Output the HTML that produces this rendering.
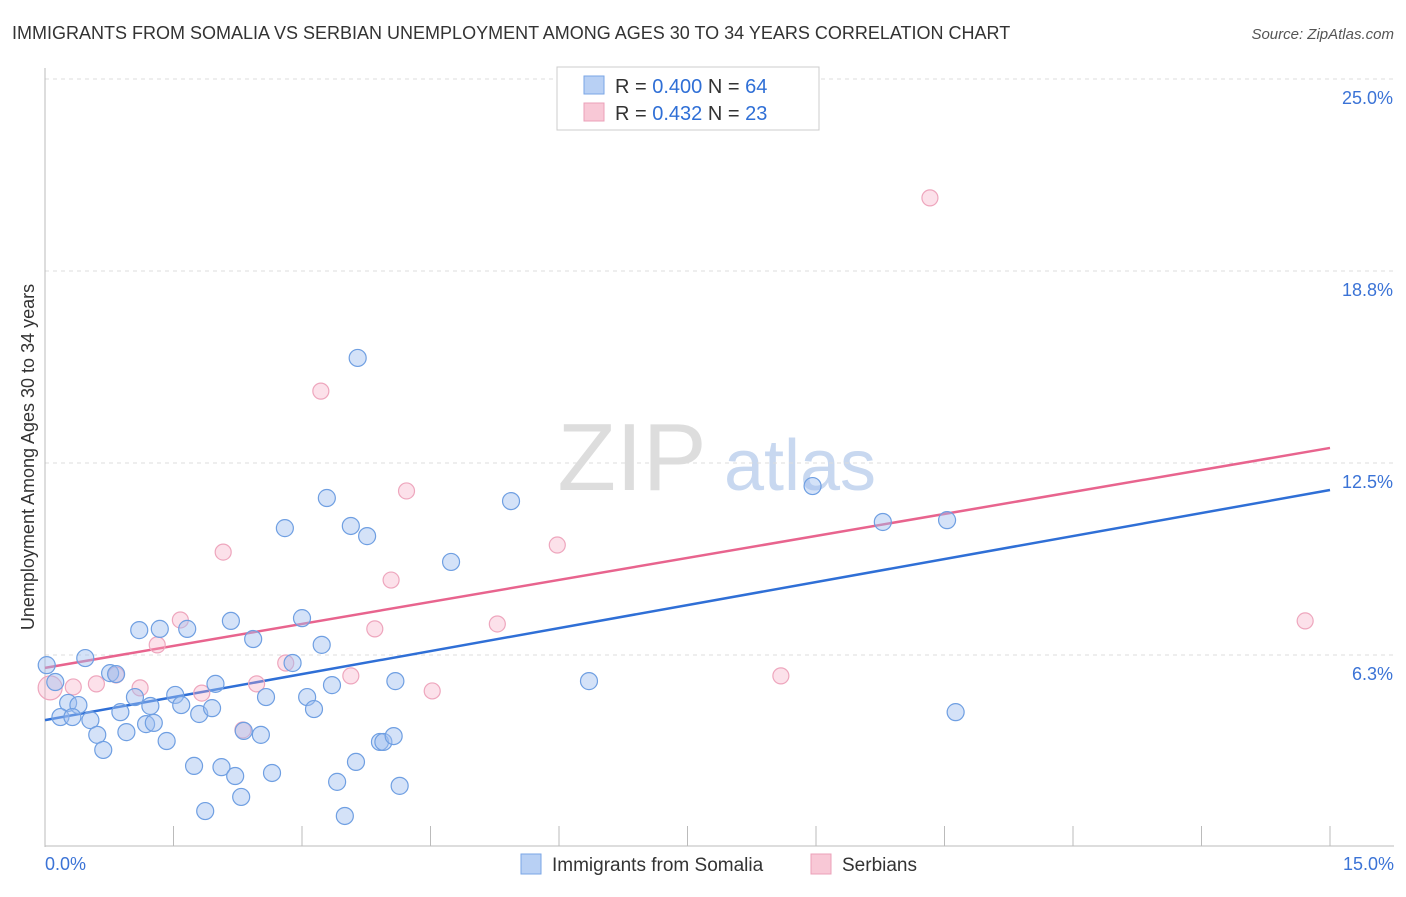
<!DOCTYPE html>
<html><head><meta charset="utf-8"><style>
body{margin:0;background:#fff;font-family:"Liberation Sans",sans-serif;}
svg text{font-family:"Liberation Sans",sans-serif;}
</style></head><body>
<svg id="chart" width="1406" height="892">
<text x="12" y="39" font-size="18" fill="#333">IMMIGRANTS FROM SOMALIA VS SERBIAN UNEMPLOYMENT AMONG AGES 30 TO 34 YEARS CORRELATION CHART</text>
<text x="1394" y="39" font-size="15" fill="#555" font-style="italic" text-anchor="end">Source: ZipAtlas.com</text>
<text transform="translate(34,457) rotate(-90)" font-size="18" fill="#333" text-anchor="middle">Unemployment Among Ages 30 to 34 years</text>
<g><text x="632" y="490" font-size="96" fill="#ddd" font-family="Liberation Serif" text-anchor="middle">ZIP</text><text x="800" y="490" font-size="72" fill="#c8d8f0" text-anchor="middle">atlas</text></g>
<g id="grid"></g><g id="axes"></g><g id="lines"></g><g id="pts"></g>
<g>
<rect x="557" y="67" width="262" height="63" fill="#fff" stroke="#ccc"/>
<rect x="584" y="76" width="20" height="18" fill="#b8d0f4" stroke="#7aa6e6"/>
<text x="615" y="93" font-size="20" fill="#333">R = <tspan fill="#2f6fd6">0.400</tspan>   N = <tspan fill="#2f6fd6">64</tspan></text>
<rect x="584" y="103" width="20" height="18" fill="#f8c8d6" stroke="#eba0b8"/>
<text x="615" y="120" font-size="20" fill="#333">R =  <tspan fill="#2f6fd6">0.432</tspan>   N =  <tspan fill="#2f6fd6">23</tspan></text>
</g>
<g>
<rect x="521" y="854" width="20" height="20" fill="#b8d0f4" stroke="#7aa6e6"/>
<text x="552" y="871" font-size="19" fill="#333">Immigrants from Somalia</text>
<rect x="811" y="854" width="20" height="20" fill="#f8c8d6" stroke="#eba0b8"/>
<text x="842" y="871" font-size="19" fill="#333">Serbians</text>
</g>
</svg>
<script>
const blueX=[0.02,0.12,0.47,0.27,0.39,0.18,0.32,0.53,0.61,0.68,0.76,0.83,0.88,0.95,1.05,1.10,1.18,1.23,1.27,1.34,1.42,1.52,1.59,1.66,1.74,1.80,1.87,1.95,1.99,2.06,2.17,2.22,2.29,2.32,2.43,2.52,2.58,2.65,2.80,2.89,3.00,3.06,3.14,3.23,3.29,3.35,3.41,3.50,3.57,3.63,3.65,3.76,3.91,3.95,4.07,4.09,4.14,4.74,5.44,6.35,8.96,9.78,10.53,10.63];
const blueY=[5.92,5.37,6.15,4.69,4.62,4.23,4.23,4.13,3.65,3.16,5.66,5.63,4.39,3.74,4.88,7.06,4.00,4.59,4.04,7.10,3.45,4.95,4.62,7.10,2.64,4.33,1.17,4.52,5.31,2.60,7.36,2.31,1.63,3.78,6.77,3.65,4.88,2.41,10.38,5.99,7.45,4.88,4.49,6.58,11.36,5.27,2.12,1.01,10.45,2.77,15.92,10.12,3.42,3.42,3.61,5.40,1.99,9.28,11.26,5.40,11.75,10.58,10.64,4.39];
const pinkX=[0.06,0.33,0.60,0.83,1.11,1.31,1.58,1.83,2.08,2.31,2.47,2.81,3.22,3.57,3.85,4.04,4.22,4.52,5.28,5.98,8.59,10.33,14.71];
const pinkY=[5.18,5.21,5.31,5.60,5.18,6.58,7.39,5.01,9.60,3.81,5.31,5.99,14.84,5.57,7.10,8.69,11.59,5.08,7.26,9.83,5.57,21.13,7.36];
const blueTrend=[4.13,11.62];
const pinkTrend=[5.83,12.99];
const yTicks=[6.25,12.5,18.75,25];
const yTickLabels=["6.3%","12.5%","18.8%","25.0%"];
const xTickLabels=["0.0%","15.0%"];
const X0=45,X1=1330,Y0=847,PXY=192/6.25;
const sx=v=>X0+(v/15)*(X1-X0);
const sy=v=>Y0-v*PXY;
const NS="http://www.w3.org/2000/svg";
function mk(t,p,a){const e=document.createElementNS(NS,t);for(const k in a)e.setAttribute(k,a[k]);p.appendChild(e);return e;}
const grid=document.getElementById('grid'),axes=document.getElementById('axes'),lines=document.getElementById('lines'),pts=document.getElementById('pts');
yTicks.forEach((v,i)=>{
 const l=mk('line',grid,{x1:X0,x2:1394,y1:sy(v),y2:sy(v),stroke:'#ddd','stroke-dasharray':'4,4'});
 
 
 const t=mk('text',grid,{x:1393,y:sy(v)+25,'font-size':18,fill:'#3b73d6','text-anchor':'end'});
 t.textContent=yTickLabels[i];
 
 
});
mk('line',axes,{x1:X0,x2:X0,y1:68,y2:Y0,stroke:'#bbb'});
mk('line',axes,{x1:X0,x2:1394,y1:Y0-1,y2:Y0-1,stroke:'#bbb'});
for(let i=0;i<=10;i++){
 const x=sx(i*1.5);
 const tk=mk('line',axes,{x1:x,x2:x,y1:826,y2:846,stroke:'#bbb'});
 
 
}
[[0,'start',45],[15,'end',1394]].forEach((d,i)=>{
 const t=mk('text',axes,{x:d[2],y:870,'font-size':18,fill:'#3b73d6','text-anchor':d[1]});
 t.textContent=xTickLabels[i];
 
 
});
pinkX.forEach((v,i)=>{
 const c=mk('circle',pts,{cx:sx(v),cy:sy(pinkY[i]),r:i==0?12:8,fill:'rgba(245,170,195,0.35)',stroke:'#eea6bd','stroke-width':1.2});
 
 
});
blueX.forEach((v,i)=>{
 const c=mk('circle',pts,{cx:sx(v),cy:sy(blueY[i]),r:8.5,fill:'rgba(160,190,240,0.45)',stroke:'#6f9fe2','stroke-width':1.2});
 
 
});
const bl=mk('line',lines,{x1:sx(0),y1:sy(blueTrend[0]),x2:sx(15),y2:sy(blueTrend[1]),stroke:'#2f6fd6','stroke-width':2.5});


const pl=mk('line',lines,{x1:sx(0),y1:sy(pinkTrend[0]),x2:sx(15),y2:sy(pinkTrend[1]),stroke:'#e8648e','stroke-width':2.5});


</script>
</body></html>
